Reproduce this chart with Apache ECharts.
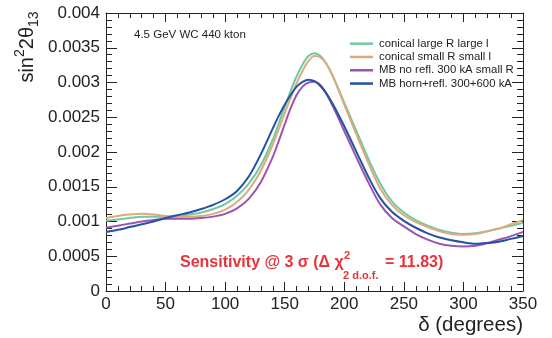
<!DOCTYPE html>
<html>
<head>
<meta charset="utf-8">
<script src="https://cdn.jsdelivr.net/npm/echarts@6/dist/echarts.min.js"></script>
<style>html,body{margin:0;padding:0;background:#fff;}#c{width:552px;height:338px;}</style>
</head>
<body>
<div id="c"></div>
<script>
const delta = [0,10,20,30,40,50,60,70,80,90,100,110,120,130,140,145,150,155,160,165,170,175,180,185,190,195,200,210,220,230,240,250,260,270,280,290,300,310,320,330,340,350];
const conicalLarge = [0.00101,0.00103,0.00105,0.00107,0.00107,0.00107,0.00108,0.00110,0.00113,0.00118,0.00125,0.00137,0.00155,0.00181,0.00218,
  0.00241,0.00265,0.00288,0.00309,0.00326,0.00338,0.00342,0.00338,0.00327,0.00310,0.00291,0.00271,
  0.00231,0.00191,0.00155,0.00129,0.00113,0.00102,0.00094,0.00088,0.00084,0.00082,0.00083,0.00086,0.00090,0.00094,0.00098];
const conicalSmall = [0.00105,0.00108,0.00110,0.00111,0.00110,0.00108,0.00107,0.00107,0.00108,0.00111,0.00117,0.00128,0.00146,0.00173,0.00211,
  0.00233,0.00256,0.00278,0.00299,0.00317,0.00331,0.00338,0.00336,0.00327,0.00311,0.00290,0.00268,
  0.00226,0.00185,0.00148,0.00124,0.00109,0.00099,0.00092,0.00086,0.00082,0.00081,0.00082,0.00086,0.00090,0.00096,0.00102];
const mbNoRefl = [0.00091,0.00094,0.00097,0.00100,0.00102,0.00104,0.00104,0.00104,0.00105,0.00107,0.00111,0.00119,0.00133,0.00157,0.00193,
  0.00216,0.00240,0.00263,0.00282,0.00294,0.00300,0.00301,0.00296,0.00284,0.00267,0.00249,0.00230,
  0.00193,0.00157,0.00125,0.00105,0.00093,0.00082,0.00074,0.00068,0.00065,0.00064,0.00065,0.00069,0.00074,0.00079,0.00085];
const mbHornRefl = [0.00085,0.00088,0.00092,0.00096,0.00100,0.00105,0.00109,0.00113,0.00118,0.00124,0.00132,0.00144,0.00165,0.00197,0.00234,
  0.00252,0.00268,0.00282,0.00294,0.00301,0.00304,0.00302,0.00295,0.00284,0.00270,0.00254,0.00237,
  0.00201,0.00165,0.00134,0.00114,0.00101,0.00091,0.00083,0.00077,0.00073,0.00070,0.00068,0.00069,0.00071,0.00075,0.00079];
const seriesNames = ['conical large R large l','conical small R small l','MB no refl. 300 kA small R','MB horn+refl. 300+600 kA'];
const seriesColors = ['#72c8a2','#dcab7c','#9a55b0','#2352a3'];
const xTickLabels = ['0','50','100','150','200','250','300','350'];
const yTickLabels = ['0','0.0005','0.001','0.0015','0.002','0.0025','0.003','0.0035','0.004'];

const FONT = '"Liberation Sans", Arial, Helvetica, sans-serif';
const allData = [conicalLarge, conicalSmall, mbNoRefl, mbHornRefl];
const chart = echarts.init(document.getElementById('c'), null, {renderer:'canvas'});

const axisCommon = {
  axisLine: {show:true, onZero:false, lineStyle:{color:'#222', width:1}},
  splitLine: {show:false}
};
const option = {
  animation: false,
  backgroundColor: '#fff',
  grid: {left:106, right:29, top:13, bottom:47, containLabel:false},
  legend: {
    orient: 'vertical', left: 345, top: 32,
    icon: 'rect', itemWidth: 23, itemHeight: 2.5, itemGap: 0,
    textStyle: {fontFamily: FONT, fontSize: 11.4, color:'#222', lineHeight: 13.3, padding:[0,0,0,1]},
    data: seriesNames
  },
  xAxis: [
    Object.assign({}, axisCommon, {
      type:'value', min:0, max:350, interval:50, position:'bottom',
      axisTick:{show:true, inside:true, length:9, lineStyle:{color:'#222'}},
      minorTick:{show:true, splitNumber:5, length:5, lineStyle:{color:'#222'}},
      axisLabel:{show:true, margin:5, fontFamily:FONT, fontSize:17, color:'#222',
        formatter: (v) => xTickLabels[Math.round(v/50)]}
    }),
    Object.assign({}, axisCommon, {
      type:'value', min:0, max:350, interval:50, position:'top',
      axisTick:{show:true, inside:true, length:9, lineStyle:{color:'#222'}},
      minorTick:{show:true, splitNumber:5, length:5, lineStyle:{color:'#222'}},
      axisLabel:{show:false}
    })
  ],
  yAxis: [
    Object.assign({}, axisCommon, {
      type:'value', min:0, max:0.004, interval:0.0005, position:'left',
      axisTick:{show:true, inside:true, length:11, lineStyle:{color:'#222'}},
      minorTick:{show:true, splitNumber:5, length:6, lineStyle:{color:'#222'}},
      axisLabel:{show:true, margin:6, fontFamily:FONT, fontSize:17, color:'#222',
        formatter: (v) => yTickLabels[Math.round(v/0.0005)]}
    }),
    Object.assign({}, axisCommon, {
      type:'value', min:0, max:0.004, interval:0.0005, position:'right',
      axisTick:{show:true, inside:true, length:11, lineStyle:{color:'#222'}},
      minorTick:{show:true, splitNumber:5, length:6, lineStyle:{color:'#222'}},
      axisLabel:{show:false}
    })
  ],
  series: allData.map((arr, i) => ({
    name: seriesNames[i], type:'line', xAxisIndex:0, yAxisIndex:0,
    data: delta.map((d, j) => [d, arr[j]]),
    smooth: 0.3, showSymbol:false, symbol:'none',
    lineStyle:{color: seriesColors[i], width:2},
    itemStyle:{color: seriesColors[i]},
    z: 2 + i
  })),
  graphic: [
    {type:'text', left:134, top:29, style:{text:'4.5 GeV WC 440 kton', fontFamily:FONT, fontSize:11.5, fill:'#222'}},
    {type:'text', x:27, y:47, rotation: Math.PI/2,
      style:{
        text:'{m|sin}{sp|2}{m|2θ}{sb|13}',
        align:'center', verticalAlign:'middle',
        rich:{
          m:{fontFamily:FONT, fontSize:20, fill:'#222', lineHeight:28, verticalAlign:'middle'},
          sp:{fontFamily:FONT, fontSize:14, fill:'#222', lineHeight:28, verticalAlign:'top', padding:[0,0,6,0]},
          sb:{fontFamily:FONT, fontSize:14, fill:'#222', lineHeight:28, verticalAlign:'bottom', padding:[6,0,0,0]}
        }
      }},
    {type:'text', x:523, y:325, style:{text:'δ (degrees)', fontFamily:FONT, fontSize:20.5, fill:'#222', align:'right', verticalAlign:'middle'}},
    {type:'text', x:180, y:263, style:{text:'Sensitivity @ 3 σ (Δ χ', fontFamily:FONT, fontSize:16, fontWeight:'bold', fill:'#e8333a', align:'left', verticalAlign:'middle'}},
    {type:'text', x:344, y:256, style:{text:'2', fontFamily:FONT, fontSize:11, fontWeight:'bold', fill:'#e8333a', align:'left', verticalAlign:'middle'}},
    {type:'text', x:343, y:276, style:{text:'2 d.o.f.', fontFamily:FONT, fontSize:11, fontWeight:'bold', fill:'#e8333a', align:'left', verticalAlign:'middle'}},
    {type:'text', x:385, y:263, style:{text:'= 11.83)', fontFamily:FONT, fontSize:16, fontWeight:'bold', fill:'#e8333a', align:'left', verticalAlign:'middle'}}
  ]
};
chart.setOption(option);
</script>
</body>
</html>
